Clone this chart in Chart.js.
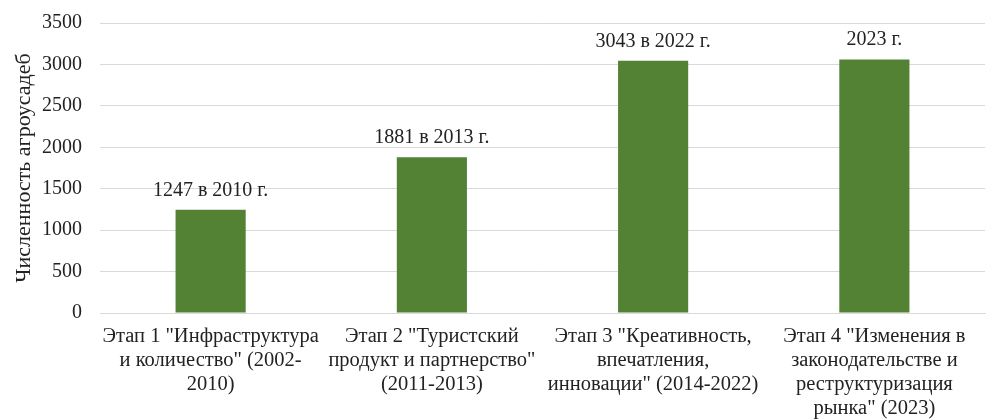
<!DOCTYPE html>
<html>
<head>
<meta charset="utf-8">
<script src="https://cdn.jsdelivr.net/npm/chart.js@4"></script>
<style>
html,body{margin:0;padding:0;background:#fff;}
#wrap{width:991px;height:420px;}
</style>
</head>
<body>
<div id="wrap"><canvas id="c" width="991" height="420"></canvas></div>
<script>
const categories = [
  ['Этап 1 "Инфраструктура', 'и количество" (2002-', '2010)'],
  ['Этап 2 "Туристский', 'продукт и партнерство"', '(2011-2013)'],
  ['Этап 3 "Креативность,', 'впечатления,', 'инновации" (2014-2022)'],
  ['Этап 4 "Изменения в', 'законодательстве и', 'реструктуризация', 'рынка" (2023)']
];
const values = [1247, 1881, 3043, 3060];
const barLabels = ['1247 в 2010 г.', '1881 в 2013 г.', '3043 в 2022 г.', '2023 г.'];
const yTitle = 'Численность агроусадеб';

const FONT = '"Liberation Serif", "Times New Roman", serif';
const TEXT = '#222222';

const labelPlugin = {
  id: 'barLabels',
  afterDatasetsDraw(chart) {
    const ctx = chart.ctx;
    const meta = chart.getDatasetMeta(0);
    ctx.save();
    ctx.font = '20px ' + FONT;
    ctx.fillStyle = TEXT;
    ctx.textAlign = 'center';
    ctx.textBaseline = 'alphabetic';
    meta.data.forEach((bar, i) => {
      ctx.fillText(barLabels[i], bar.x, bar.y - 14);
    });
    ctx.restore();
  }
};

new Chart(document.getElementById('c'), {
  type: 'bar',
  data: {
    labels: categories,
    datasets: [{
      data: values,
      backgroundColor: '#548235',
      borderWidth: 0,
      barPercentage: 0.317,
      categoryPercentage: 1.0
    }]
  },
  options: {
    responsive: false,
    animation: false,
    devicePixelRatio: 1,
    layout: { padding: { top: 23, right: 6, left: 1, bottom: 0 } },
    plugins: { legend: { display: false }, tooltip: { enabled: false } },
    scales: {
      x: {
        grid: { display: false, drawTicks: false },
        border: { display: true, color: '#d9d9d9' },
        afterFit: (s) => { s.height = 107; },
        ticks: {
          color: TEXT,
          font: { family: FONT, size: 20.5, lineHeight: 1.17 },
          maxRotation: 0, minRotation: 0, autoSkip: false,
          padding: 12
        }
      },
      y: {
        min: 0, max: 3500,
        afterFit: (s) => { s.width = 99; s.paddingTop = 0; s.paddingBottom = 0; },
        ticks: {
          stepSize: 500,
          color: TEXT,
          font: { family: FONT, size: 20 },
          padding: 18,
          callback: (v) => String(v)
        },
        grid: { color: '#d9d9d9', drawTicks: false },
        border: { display: false },
        title: {
          display: true,
          text: yTitle,
          color: TEXT,
          font: { family: FONT, size: 22 },
          padding: { top: 10, bottom: 0 }
        }
      }
    }
  },
  plugins: [labelPlugin]
});
</script>
</body>
</html>
